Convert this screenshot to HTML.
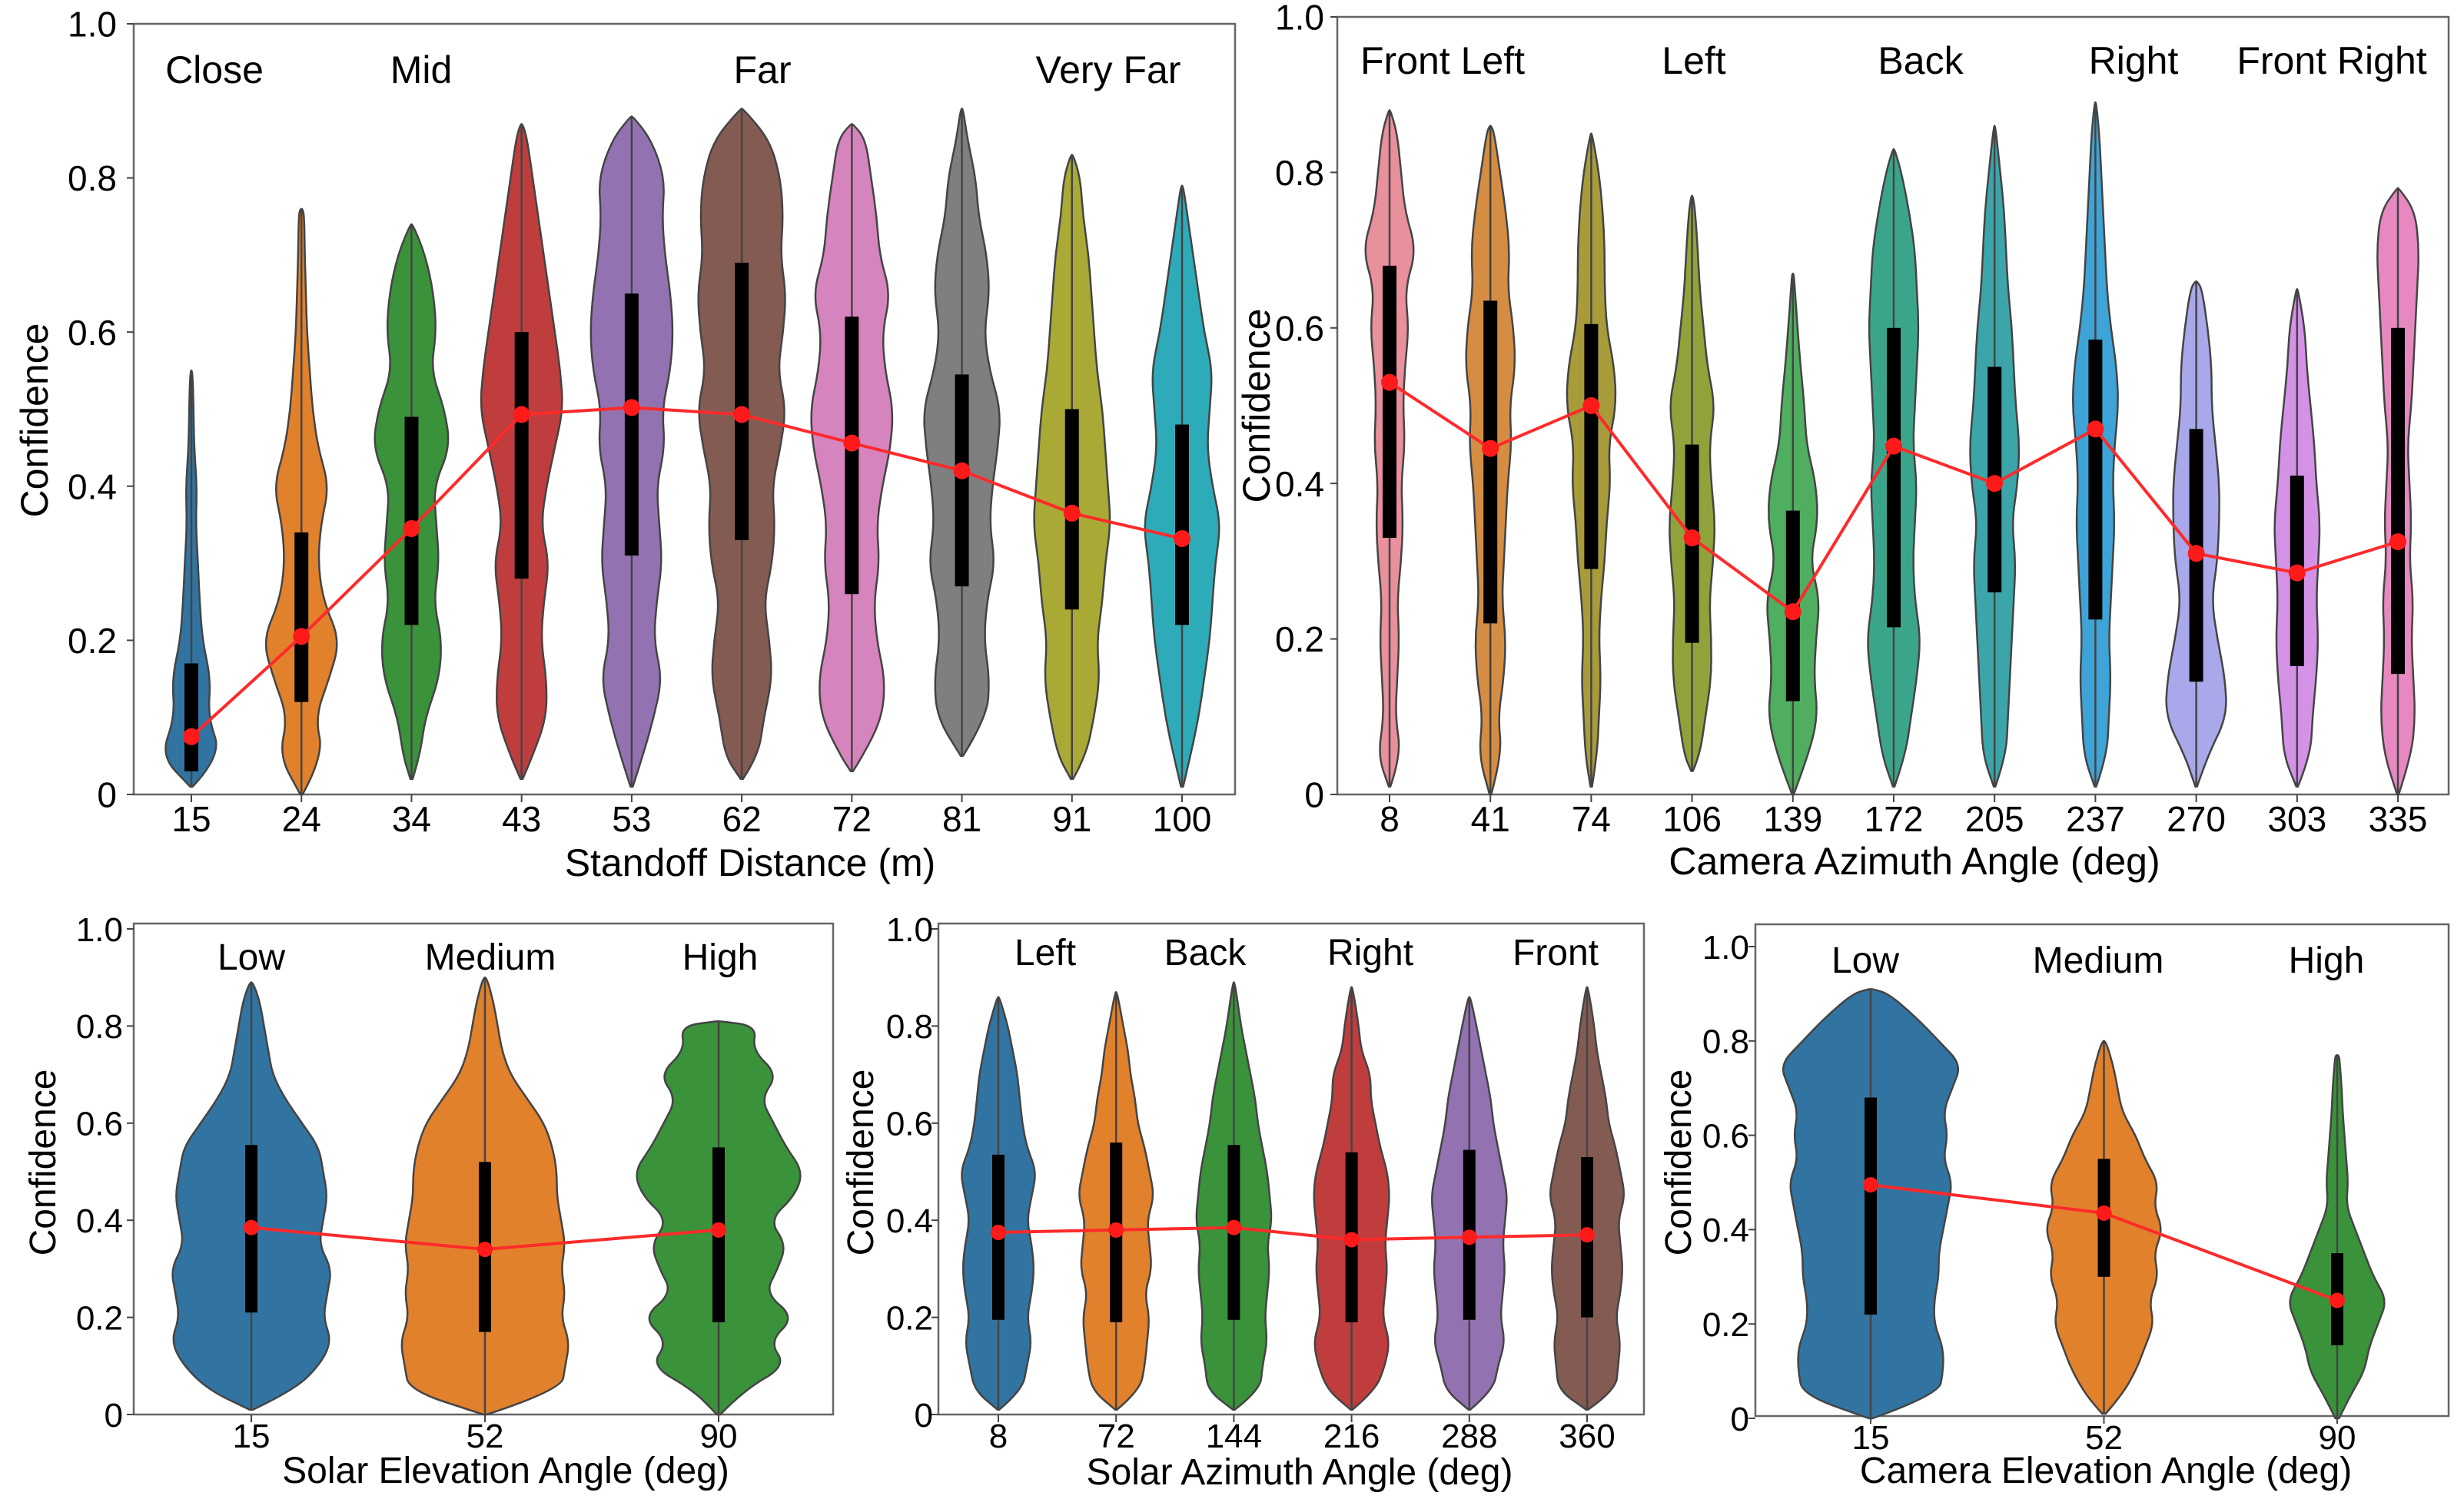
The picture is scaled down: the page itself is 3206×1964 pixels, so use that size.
<!DOCTYPE html>
<html><head><meta charset="utf-8">
<style>
html,body{margin:0;padding:0;background:#fff;}
svg{display:block;font-family:"Liberation Sans",sans-serif;}
</style></head>
<body>
<svg id="fig" width="3206" height="1964" viewBox="0 0 3206 1964" xmlns="http://www.w3.org/2000/svg"></svg>
<script>
// ---------- Panel 1: Standoff distance ----------
const p1Cats = ["15","24","34","43","53","62","72","81","91","100"];
const p1Min = [0.01,0.0,0.02,0.02,0.01,0.02,0.03,0.05,0.02,0.01];
const p1Max = [0.55,0.76,0.74,0.87,0.88,0.89,0.87,0.89,0.83,0.79];
const p1Q1 = [0.03,0.12,0.22,0.28,0.31,0.33,0.26,0.27,0.24,0.22];
const p1Q3 = [0.17,0.34,0.49,0.60,0.65,0.69,0.62,0.545,0.50,0.48];
const p1Mean = [0.075,0.205,0.345,0.493,0.502,0.493,0.456,0.42,0.365,0.332];
const p1Density = [
 [0.6,0.55,0.3,0.35,0.2,0.15,0.12,0.08,0.1,0.05,0.04,0.03],
 [0.5,0.4,0.25,0.5,0.7,0.4,0.3,0.35,0.5,0.3,0.2,0.15,0.1,0.08,0.06,0.05],
 [0.1,0.15,0.25,0.5,0.55,0.4,0.5,0.45,0.4,0.7,0.6,0.35,0.45,0.4,0.25,0.1],
 [0.1,0.2,0.45,0.45,0.35,0.4,0.5,0.35,0.45,0.6,0.75,0.7,0.6,0.5,0.4,0.3,0.2,0.1],
 [0.1,0.2,0.4,0.55,0.4,0.45,0.55,0.5,0.45,0.6,0.55,0.7,0.75,0.7,0.6,0.55,0.6,0.35,0.1],
 [0.15,0.3,0.4,0.55,0.5,0.4,0.55,0.6,0.55,0.7,0.8,0.65,0.75,0.8,0.7,0.75,0.7,0.5,0.2],
 [0.1,0.2,0.55,0.6,0.45,0.4,0.5,0.45,0.55,0.7,0.75,0.6,0.55,0.7,0.5,0.45,0.35,0.25],
 [0.1,0.3,0.45,0.5,0.4,0.45,0.6,0.5,0.55,0.65,0.7,0.5,0.4,0.5,0.45,0.3,0.25,0.1],
 [0.1,0.25,0.4,0.5,0.45,0.55,0.6,0.7,0.65,0.6,0.55,0.45,0.4,0.35,0.3,0.2,0.15],
 [0.1,0.15,0.3,0.4,0.5,0.55,0.6,0.7,0.55,0.45,0.5,0.55,0.4,0.3,0.2,0.1]
];
const p1Colors = ["#3274a1","#e1812c","#3a923a","#c03d3e","#9372b2","#845b53","#d684bd","#7f7f7f","#a9aa35","#2eabb8"];
const p1Groups = ["Close","Mid","Far","Very Far"];

// ---------- Panel 2: Camera azimuth ----------
const p2Cats = ["8","41","74","106","139","172","205","237","270","303","335"];
const p2Min = [0.01,0.0,0.01,0.03,0.0,0.01,0.01,0.01,0.01,0.01,0.0];
const p2Max = [0.88,0.86,0.85,0.77,0.67,0.83,0.86,0.89,0.66,0.65,0.78];
const p2Q1 = [0.33,0.22,0.29,0.195,0.12,0.215,0.26,0.225,0.145,0.165,0.155];
const p2Q3 = [0.68,0.635,0.605,0.45,0.365,0.60,0.55,0.585,0.47,0.41,0.60];
const p2Mean = [0.53,0.445,0.50,0.33,0.235,0.448,0.40,0.47,0.31,0.285,0.325];
const p2Density = [
 [0.25,0.3,0.15,0.2,0.25,0.2,0.3,0.35,0.3,0.4,0.35,0.4,0.5,0.4,0.7,0.4,0.3,0.2],
 [0.6,0.3,0.2,0.35,0.4,0.3,0.35,0.4,0.45,0.55,0.5,0.65,0.6,0.45,0.5,0.4,0.25,0.1],
 [0.15,0.15,0.2,0.25,0.2,0.25,0.35,0.4,0.5,0.45,0.65,0.6,0.4,0.35,0.35,0.3,0.2,0.1],
 [0.1,0.2,0.35,0.5,0.5,0.45,0.55,0.6,0.5,0.45,0.6,0.4,0.3,0.2,0.15,0.08],
 [0.3,0.4,0.65,0.55,0.6,0.7,0.45,0.65,0.6,0.35,0.3,0.2,0.12,0.05],
 [0.15,0.3,0.45,0.6,0.7,0.55,0.5,0.55,0.6,0.5,0.55,0.6,0.65,0.6,0.55,0.4,0.2],
 [0.2,0.3,0.35,0.4,0.45,0.5,0.55,0.45,0.6,0.65,0.55,0.5,0.45,0.35,0.3,0.25,0.15],
 [0.25,0.3,0.35,0.4,0.35,0.4,0.45,0.5,0.45,0.5,0.6,0.55,0.4,0.3,0.25,0.2,0.15,0.1],
 [0.2,0.3,0.8,0.75,0.55,0.4,0.55,0.6,0.6,0.5,0.4,0.4,0.3,0.15],
 [0.2,0.35,0.4,0.5,0.55,0.5,0.55,0.6,0.5,0.45,0.35,0.25,0.2,0.1],
 [0.5,0.35,0.45,0.4,0.35,0.4,0.3,0.35,0.3,0.25,0.35,0.4,0.45,0.5,0.55,0.45]
];
const p2Colors = ["#e8909c","#d58d43","#a89b3a","#8fa33a","#4fae5f","#3ba58b","#3ba5aa","#3ea3d6","#a8a8ea","#d492e6","#e788c1"];
const p2Groups = ["Front Left","Left","Back","Right","Front Right"];

// ---------- Panel 3: Solar elevation ----------
const p3Cats = ["15","52","90"];
const p3Min = [0.01,0.0,0.0];
const p3Max = [0.89,0.90,0.81];
const p3Q1 = [0.21,0.17,0.19];
const p3Q3 = [0.555,0.52,0.55];
const p3Mean = [0.385,0.34,0.38];
const p3Density = [
 [0.2,0.5,0.8,0.95,0.85,0.9,0.95,0.8,0.85,0.9,0.85,0.8,0.6,0.4,0.25,0.2,0.15,0.1],
 [0.5,0.9,0.95,1.0,0.9,0.95,0.9,0.95,0.9,0.85,0.85,0.8,0.7,0.5,0.3,0.2,0.15,0.1],
 [0.5,0.3,0.8,0.6,0.9,0.55,0.7,0.8,0.6,0.9,1.0,0.8,0.65,0.5,0.7,0.4,0.45]
];
const p3Colors = ["#3274a1","#e1812c","#3a923a"];
const p3Groups = ["Low","Medium","High"];

// ---------- Panel 4: Solar azimuth ----------
const p4Cats = ["8","72","144","216","288","360"];
const p4Min = [0.01,0.01,0.01,0.01,0.01,0.01];
const p4Max = [0.86,0.87,0.89,0.88,0.86,0.88];
const p4Q1 = [0.195,0.19,0.195,0.19,0.195,0.20];
const p4Q3 = [0.535,0.56,0.555,0.54,0.545,0.53];
const p4Mean = [0.375,0.38,0.385,0.36,0.365,0.37];
const p4Density = [
 [0.3,0.5,0.6,0.7,0.6,0.7,0.75,0.7,0.6,0.7,0.8,0.6,0.5,0.45,0.4,0.3,0.2],
 [0.3,0.5,0.6,0.65,0.7,0.6,0.75,0.7,0.65,0.8,0.7,0.6,0.45,0.4,0.3,0.25,0.15],
 [0.3,0.55,0.6,0.7,0.65,0.7,0.75,0.7,0.8,0.75,0.7,0.6,0.5,0.45,0.35,0.25,0.15],
 [0.3,0.5,0.7,0.8,0.65,0.7,0.75,0.7,0.75,0.8,0.75,0.6,0.5,0.4,0.4,0.2,0.15],
 [0.3,0.5,0.6,0.75,0.65,0.7,0.75,0.7,0.75,0.8,0.7,0.6,0.5,0.45,0.35,0.25,0.15],
 [0.3,0.6,0.65,0.7,0.6,0.7,0.75,0.7,0.65,0.8,0.7,0.6,0.45,0.4,0.3,0.2,0.15]
];
const p4Colors = ["#3274a1","#e1812c","#3a923a","#c03d3e","#9372b2","#845b53"];
const p4Groups = ["Left","Back","Right","Front"];

// ---------- Panel 5: Camera elevation ----------
const p5Cats = ["15","52","90"];
const p5Min = [0.0,0.01,0.0];
const p5Max = [0.91,0.80,0.77];
const p5Q1 = [0.22,0.30,0.155];
const p5Q3 = [0.68,0.55,0.35];
const p5Mean = [0.495,0.435,0.25];
const p5Density = [
 [0.6,0.75,0.8,0.8,0.7,0.7,0.75,0.75,0.8,0.85,0.9,0.8,0.85,0.8,0.9,1.0,0.75,0.5,0.2],
 [0.1,0.2,0.35,0.45,0.55,0.5,0.6,0.55,0.65,0.55,0.6,0.45,0.35,0.2,0.15,0.1],
 [0.2,0.15,0.3,0.35,0.45,0.55,0.4,0.3,0.2,0.1,0.12,0.1,0.08,0.06,0.05,0.03]
];
const p5Colors = ["#3274a1","#e1812c","#3a923a"];
const p5Groups = ["Low","Medium","High"];

const yTicks = [0,0.2,0.4,0.6,0.8,1.0];
const yTickLabels = ["0","0.2","0.4","0.6","0.8","1.0"];

const NS = "http://www.w3.org/2000/svg";
const svg = document.getElementById('fig');
function mk(tag, attrs, parent){
  const e = document.createElementNS(NS, tag);
  for (const k in attrs) e.setAttribute(k, attrs[k]);
  (parent||svg).appendChild(e);
  return e;
}

function violinPath(cx, yS, dens, mn, mx, scale){
  // points along the right side, from min to max
  const pts = [];
  pts.push([mn, 0.02]);
  for (let i=0;i<dens.length;i++){
    const v = i*0.05;
    if (v>mn && v<mx) pts.push([v, dens[i]]);
  }
  pts.push([mx, 0.02]);
  const right = pts.map(p=>[cx + p[1]*scale, yS(p[0])]);
  const left = pts.slice().reverse().map(p=>[cx - p[1]*scale, yS(p[0])]);
  const all = right.concat(left);
  let d = "M"+all[0][0].toFixed(1)+","+all[0][1].toFixed(1);
  for (let i=1;i<all.length-1;i++){
    const mxp=(all[i][0]+all[i+1][0])/2, myp=(all[i][1]+all[i+1][1])/2;
    d += " Q"+all[i][0].toFixed(1)+","+all[i][1].toFixed(1)+" "+mxp.toFixed(1)+","+myp.toFixed(1);
  }
  d += " L"+all[all.length-1][0].toFixed(1)+","+all[all.length-1][1].toFixed(1)+" Z";
  return d;
}

function drawPanel(c){
  const g = mk('g', {});
  
  
  const yS = v => c.y0 + (c.y1 - c.y0)*v;
  const n = c.cats.length;
  const xS = i => c.cx0 + (c.cx1 - c.cx0)*i/(n-1);
  // frame
  const fr = mk('rect', {x:c.L, y:c.T, width:c.R-c.L, height:c.B-c.T, fill:'none', stroke:'#666', 'stroke-width':2.5}, g);
  
  
  // y ticks
  yTicks.forEach((t,i)=>{
    mk('line', {x1:c.L-9, x2:c.L, y1:yS(t), y2:yS(t), stroke:'#444', 'stroke-width':2}, g);
    const tx = mk('text', {x:c.ytx, y:yS(t)+c.tfs*0.36, 'text-anchor':'end', 'font-size':c.tfs, fill:'#000'}, g);
    tx.textContent = yTickLabels[i];
    
    
  });
  // violins
  for (let i=0;i<n;i++){
    const cx = xS(i);
    const p = mk('path', {d:violinPath(cx,yS,c.dens[i],c.mn[i],c.mx[i],c.scale), fill:c.colors[i], stroke:'#444', 'stroke-width':2.5, 'stroke-linejoin':'round'}, g);
    
    
    mk('line', {x1:cx, x2:cx, y1:yS(c.mn[i]), y2:yS(c.mx[i]), stroke:'#444', 'stroke-width':2.5}, g);
    const b = mk('rect', {x:cx-c.bw/2, y:yS(c.q3[i]), width:c.bw, height:yS(c.q1[i])-yS(c.q3[i]), fill:'#000'}, g);
    
    
    mk('line', {x1:cx, x2:cx, y1:c.B, y2:c.B+10, stroke:'#444', 'stroke-width':2}, g);
    const tl = mk('text', {x:cx, y:c.xty, 'text-anchor':'middle', 'font-size':c.tfs, fill:'#000'}, g);
    tl.textContent = c.cats[i];
    
    
  }
  // mean line
  const pts = c.mean.map((m,i)=>xS(i).toFixed(1)+","+yS(m).toFixed(1)).join(" ");
  const pl = mk('polyline', {points:pts, fill:'none', stroke:'#ff2a2a', 'stroke-width':c.lw}, g);
  
  
  c.mean.forEach((m,i)=>{
    const d = mk('circle', {cx:xS(i), cy:yS(m), r:c.dr, fill:'#ff1a1a'}, g);
    
    
  });
  // group labels
  c.groups.forEach((gname,i)=>{
    const t = mk('text', {x:c.gx[i], y:c.gy, 'text-anchor':'middle', 'font-size':c.gfs, fill:'#000'}, g);
    t.textContent = gname;
    
    
  });
  // axis titles
  const xt = mk('text', {x:c.xlx, y:c.xly, 'text-anchor':'middle', 'font-size':c.lfs, fill:'#000'}, g);
  xt.textContent = c.xlabel;
  
  
  const yt = mk('text', {x:c.ylx, y:c.yly, 'text-anchor':'middle', 'font-size':c.lfs, fill:'#000', transform:'rotate(-90 '+c.ylx+' '+c.yly+')'}, g);
  yt.textContent = 'Confidence';
  
  
}

drawPanel({name:'standoff-distance-panel', cats:p1Cats, mn:p1Min, mx:p1Max, q1:p1Q1, q3:p1Q3, mean:p1Mean, dens:p1Density, colors:p1Colors, groups:p1Groups,
  L:174,R:1607,T:31,B:1034, y0:1034,y1:31, cx0:249,cx1:1538, scale:72, bw:18, lw:4, dr:11,
  ytx:152, tfs:46, xty:1082, gx:[279,548,992,1442], gy:108, gfs:50,
  xlabel:'Standoff Distance (m)', xlx:976, xly:1140, lfs:50, ylx:62, yly:547});
drawPanel({name:'camera-azimuth-panel', cats:p2Cats, mn:p2Min, mx:p2Max, q1:p2Q1, q3:p2Q3, mean:p2Mean, dens:p2Density, colors:p2Colors, groups:p2Groups,
  L:1740,R:3186,T:22,B:1034, y0:1034,y1:22, cx0:1808,cx1:3120, scale:50, bw:18, lw:4, dr:11,
  ytx:1723, tfs:46, xty:1082, gx:[1877,2204,2499,2776,3034], gy:96, gfs:50,
  xlabel:'Camera Azimuth Angle (deg)', xlx:2491, xly:1138, lfs:50, ylx:1652, yly:528});
drawPanel({name:'solar-elevation-panel', cats:p3Cats, mn:p3Min, mx:p3Max, q1:p3Q1, q3:p3Q3, mean:p3Mean, dens:p3Density, colors:p3Colors, groups:p3Groups,
  L:174,R:1084,T:1202,B:1841, y0:1841,y1:1209, cx0:327,cx1:935, scale:110, bw:16, lw:4, dr:10,
  ytx:160, tfs:44, xty:1884, gx:[327,638,937], gy:1262, gfs:48,
  xlabel:'Solar Elevation Angle (deg)', xlx:658, xly:1930, lfs:48, ylx:72, yly:1513});
drawPanel({name:'solar-azimuth-panel', cats:p4Cats, mn:p4Min, mx:p4Max, q1:p4Q1, q3:p4Q3, mean:p4Mean, dens:p4Density, colors:p4Colors, groups:p4Groups,
  L:1221,R:2139,T:1202,B:1841, y0:1841,y1:1209, cx0:1299,cx1:2065, scale:62, bw:16, lw:4, dr:10,
  ytx:1214, tfs:44, xty:1884, gx:[1360,1568,1783,2024], gy:1256, gfs:48,
  xlabel:'Solar Azimuth Angle (deg)', xlx:1691, xly:1932, lfs:48, ylx:1136, yly:1513});
drawPanel({name:'camera-elevation-panel', cats:p5Cats, mn:p5Min, mx:p5Max, q1:p5Q1, q3:p5Q3, mean:p5Mean, dens:p5Density, colors:p5Colors, groups:p5Groups,
  L:2284,R:3186,T:1203,B:1843, y0:1846,y1:1232, cx0:2434,cx1:3041, scale:118, bw:16, lw:4, dr:10,
  ytx:2276, tfs:44, xty:1886, gx:[2427,2730,3027], gy:1266, gfs:48,
  xlabel:'Camera Elevation Angle (deg)', xlx:2740, xly:1930, lfs:48, ylx:2200, yly:1513});
</script>
</body></html>
